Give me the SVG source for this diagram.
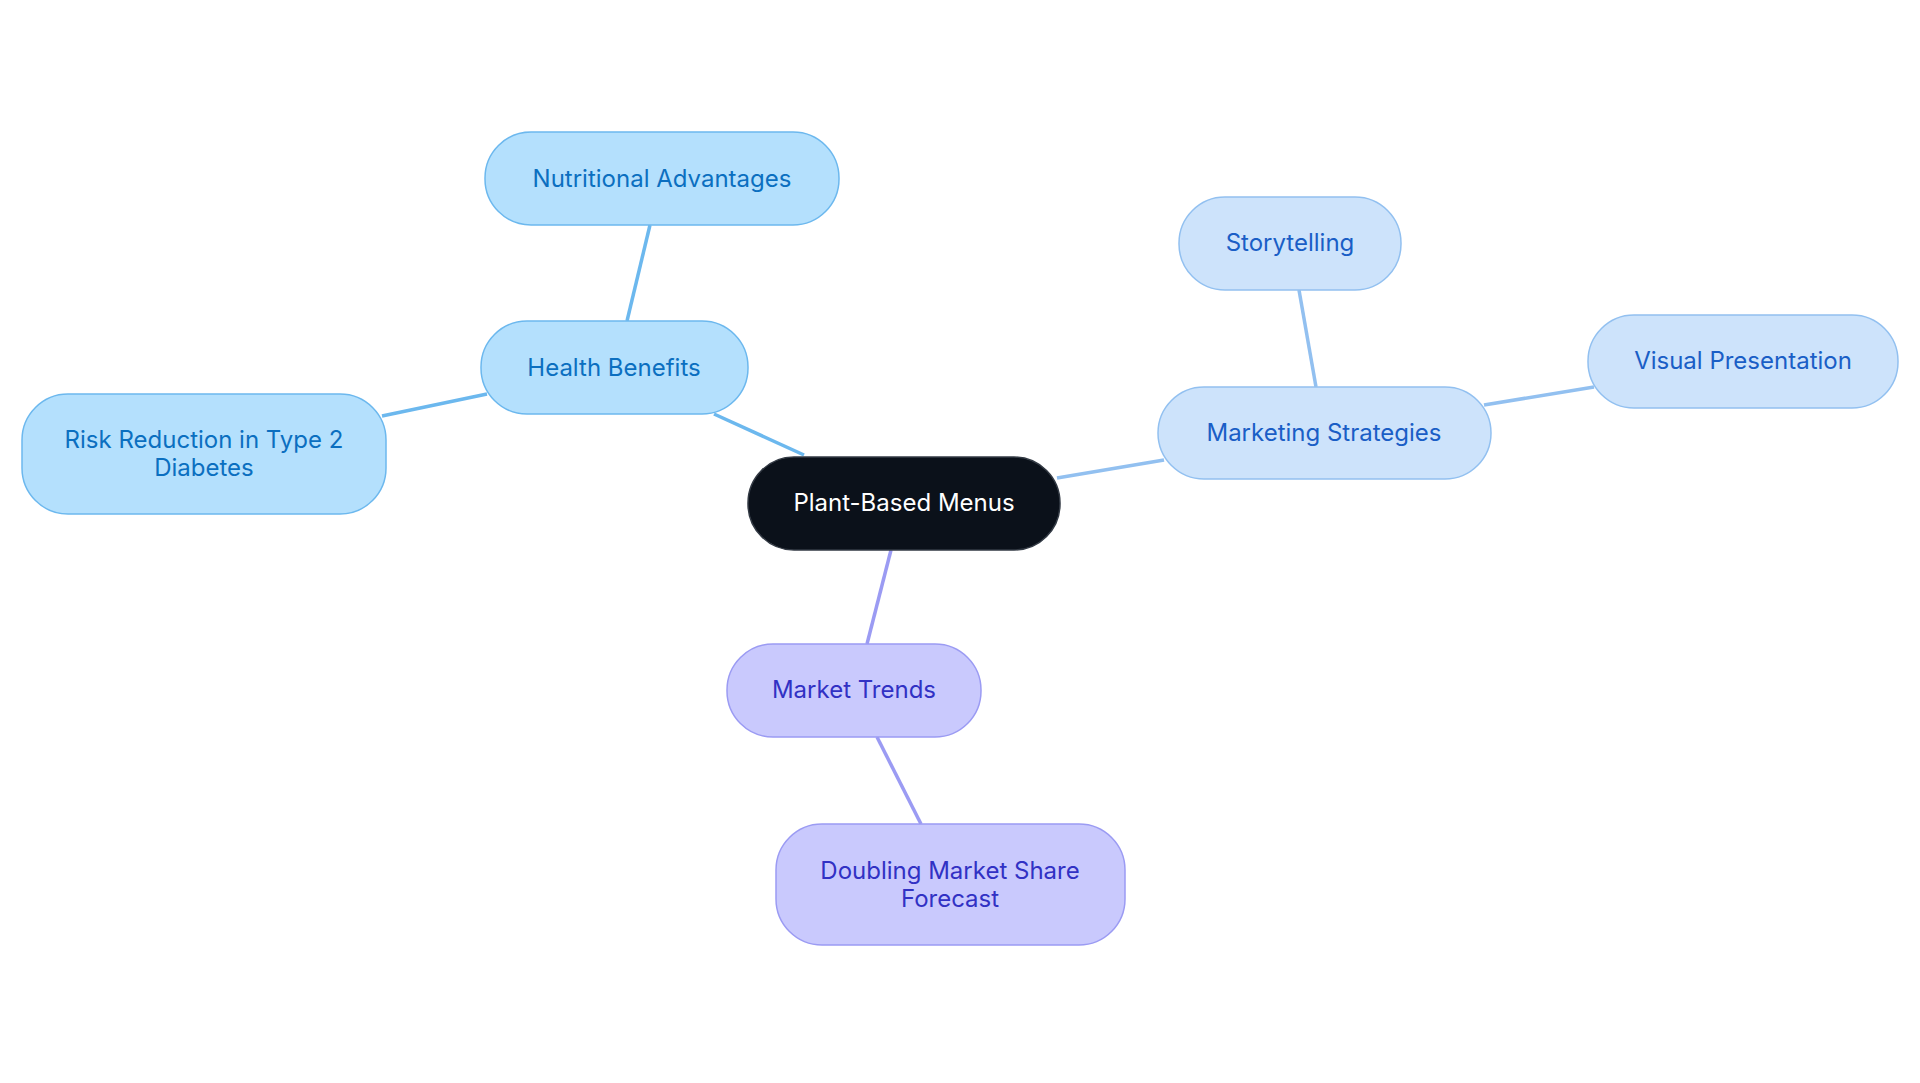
<svg xmlns="http://www.w3.org/2000/svg" width="1920" height="1083" viewBox="0 0 1920 1083">
<style>
text{font-family:Inter,"Open Sans","Liberation Sans",sans-serif;font-size:24px;text-anchor:middle;dominant-baseline:central}
.b rect{fill:#b4e0fd;stroke:#6cb8ee;stroke-width:1.5}
.b text{fill:#0b6fc0}
.l rect{fill:#cde3fb;stroke:#92c0f0;stroke-width:1.5}
.l text{fill:#1a5ec6}
.p rect{fill:#c9c9fd;stroke:#9b9bf3;stroke-width:1.5}
.p text{fill:#3131c4}
.c rect{fill:#0b111a;stroke:#333a44;stroke-width:1.5}
.c text{fill:#ffffff}
#edges line{stroke-width:3.5;fill:none}
</style>
<rect width="1920" height="1083" fill="#fff"/>
<g id="edges">
<line x1="804" y1="455" x2="714" y2="414" stroke="#6cb8ee"/>
<line x1="627" y1="321" x2="650" y2="225" stroke="#6cb8ee"/>
<line x1="487" y1="394" x2="382" y2="416" stroke="#6cb8ee"/>
<line x1="1057" y1="478" x2="1164" y2="460" stroke="#92c0f0"/>
<line x1="1316" y1="387" x2="1299" y2="290" stroke="#92c0f0"/>
<line x1="1484" y1="405" x2="1594" y2="387" stroke="#92c0f0"/>
<line x1="891" y1="550" x2="867" y2="644" stroke="#9b9bf3"/>
<line x1="877" y1="737" x2="921" y2="824" stroke="#9b9bf3"/>
</g>
<g id="center" class="c"><rect x="748" y="457" width="312" height="93" rx="46"/><text x="904" y="502">Plant-Based Menus</text></g>
<g id="health" class="b"><rect x="481" y="321" width="267" height="93" rx="46"/><text x="614" y="367">Health Benefits</text></g>
<g id="nutrition" class="b"><rect x="485" y="132" width="354" height="93" rx="46"/><text x="662" y="178">Nutritional Advantages</text></g>
<g id="risk" class="b"><rect x="22" y="394" width="364" height="120" rx="46"/><text x="204" y="439">Risk Reduction in Type 2</text><text x="204" y="467">Diabetes</text></g>
<g id="marketing" class="l"><rect x="1158" y="387" width="333" height="92" rx="46"/><text x="1324" y="432">Marketing Strategies</text></g>
<g id="story" class="l"><rect x="1179" y="197" width="222" height="93" rx="46"/><text x="1290" y="242">Storytelling</text></g>
<g id="visual" class="l"><rect x="1588" y="315" width="310" height="93" rx="46"/><text x="1743" y="360">Visual Presentation</text></g>
<g id="trends" class="p"><rect x="727" y="644" width="254" height="93" rx="46"/><text x="854" y="689">Market Trends</text></g>
<g id="doubling" class="p"><rect x="776" y="824" width="349" height="121" rx="46"/><text x="950" y="870">Doubling Market Share</text><text x="950" y="898">Forecast</text></g>
</svg>
